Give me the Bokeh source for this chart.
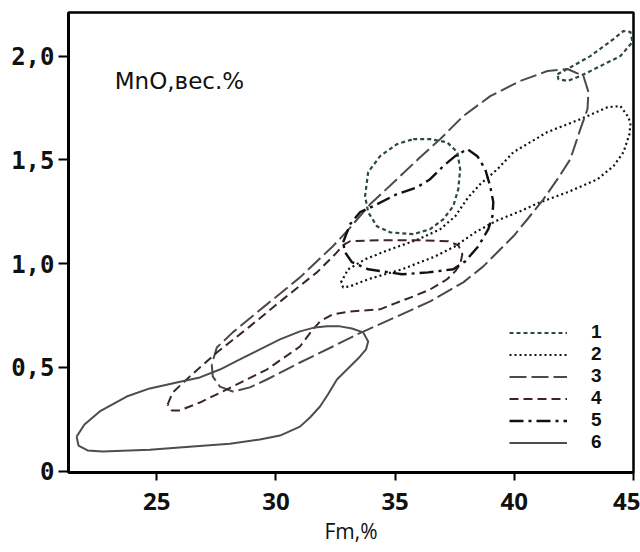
from bokeh.plotting import figure
from bokeh.models import Range1d, FixedTicker, Legend, LegendItem, Label
from bokeh.embed import file_html
from bokeh.resources import INLINE

# ---- data (Fm, %  vs  MnO, wt.%) : closed contour fields ----
# field 1 (two parts)
c1a_x = [35.76, 36.47, 37.18, 37.61, 37.73, 37.65, 37.44, 37.02, 36.47, 35.76, 34.79, 34.24, 33.87, 33.74, 33.87, 34.37, 35.08, 35.76]
c1a_y = [1.600, 1.600, 1.585, 1.537, 1.455, 1.359, 1.277, 1.214, 1.166, 1.142, 1.151, 1.180, 1.248, 1.325, 1.441, 1.518, 1.576, 1.600]
c1b_x = [41.81, 42.23, 43.19, 44.16, 44.58, 44.87, 44.96, 44.45, 43.61, 42.77, 42.23, 41.85, 41.81]
c1b_y = [1.913, 1.938, 2.000, 2.082, 2.121, 2.116, 2.068, 2.000, 1.952, 1.904, 1.880, 1.889, 1.913]
# field 2
c2_x = [32.73, 33.03, 33.74, 34.58, 35.97, 36.89, 37.52, 38.07, 38.57, 39.29, 39.96, 41.39, 42.77, 43.91, 44.45, 44.79, 44.87, 44.83,
        44.58, 44.16, 43.49, 42.23, 41.09, 40.25, 39.20, 38.36, 37.52, 36.68, 35.29, 33.87, 33.11, 32.82, 32.73]
c2_y = [0.910, 0.973, 1.021, 1.060, 1.117, 1.166, 1.228, 1.320, 1.383, 1.455, 1.537, 1.634, 1.696, 1.754, 1.759, 1.706, 1.672, 1.624,
        1.537, 1.470, 1.407, 1.344, 1.296, 1.253, 1.204, 1.151, 1.084, 1.035, 0.973, 0.925, 0.891, 0.886, 0.910]
# field 3
c3_x = [27.31, 27.35, 27.65, 28.19, 28.91, 29.62, 31.01, 32.39, 33.40, 35.08, 36.47, 37.86, 38.70, 39.29, 39.96, 40.55, 41.22, 41.81,
        42.35, 42.77, 43.07, 43.11, 42.90, 42.23, 41.39, 40.25, 38.99, 37.86, 36.89, 36.05, 35.08, 33.95, 32.98, 32.39, 31.01, 29.62,
        28.19, 27.52, 27.31]
c3_y = [0.514, 0.457, 0.408, 0.384, 0.404, 0.442, 0.524, 0.601, 0.659, 0.746, 0.818, 0.910, 0.987, 1.055, 1.132, 1.214, 1.310, 1.407,
        1.503, 1.648, 1.745, 1.827, 1.904, 1.938, 1.928, 1.880, 1.807, 1.711, 1.600, 1.513, 1.407, 1.286, 1.156, 1.084, 0.934, 0.804,
        0.669, 0.596, 0.514]
# field 4
c4_x = [25.46, 25.67, 26.39, 27.52, 28.91, 30.29, 31.72, 32.48, 32.82, 33.11, 34.37, 36.05, 37.23, 37.65, 37.82, 37.73, 37.52, 37.18,
        36.47, 35.76, 35.00, 34.37, 33.11, 32.39, 31.85, 31.55, 31.01, 29.62, 28.19, 26.81, 25.97, 25.63, 25.46]
c4_y = [0.322, 0.379, 0.457, 0.572, 0.698, 0.828, 0.958, 1.045, 1.089, 1.108, 1.113, 1.113, 1.108, 1.089, 1.045, 0.997, 0.963, 0.925,
        0.876, 0.842, 0.809, 0.780, 0.770, 0.756, 0.722, 0.683, 0.601, 0.490, 0.408, 0.331, 0.293, 0.293, 0.322]
# field 5
c5_x = [32.82, 33.11, 33.53, 34.08, 35.08, 35.92, 36.47, 37.02, 37.52, 38.03, 38.45, 38.78, 38.99, 39.12, 39.08, 38.91, 38.49, 37.94,
        37.44, 36.39, 35.29, 33.87, 33.19, 32.90, 32.82]
c5_y = [1.103, 1.190, 1.248, 1.277, 1.335, 1.368, 1.407, 1.470, 1.518, 1.552, 1.518, 1.455, 1.373, 1.296, 1.228, 1.166, 1.084, 1.011,
        0.973, 0.958, 0.949, 0.973, 1.007, 1.055, 1.103]
# field 6
c6_x = [21.64, 21.97, 22.61, 23.74, 24.71, 25.84, 26.81, 27.65, 28.49, 29.33, 30.17, 31.01, 31.64, 32.14, 32.69, 33.19, 33.66, 33.87,
        33.78, 33.53, 33.11, 32.56, 32.18, 31.85, 31.43, 31.01, 30.17, 29.33, 28.07, 26.51, 24.71, 22.73, 22.10, 21.72, 21.64]
c6_y = [0.167, 0.225, 0.288, 0.360, 0.399, 0.428, 0.452, 0.490, 0.539, 0.587, 0.635, 0.674, 0.693, 0.698, 0.698, 0.688, 0.669, 0.625,
        0.587, 0.553, 0.505, 0.442, 0.370, 0.312, 0.259, 0.215, 0.172, 0.153, 0.133, 0.119, 0.104, 0.095, 0.100, 0.124, 0.167]

legend_labels = ["1", "2", "3", "4", "5", "6"]
x_ticks = [25, 30, 35, 40, 45]
y_ticks = [0, 0.5, 1, 1.5, 2]
y_tick_labels = ["0", "0,5", "1,0", "1,5", "2,0"]

p = figure(width=640, height=552, output_backend="svg", toolbar_location=None,
           x_range=Range1d(21.3, 45.0), y_range=Range1d(-0.006, 2.21),
           min_border_left=68, min_border_right=7, min_border_top=12, min_border_bottom=80)
p.xgrid.visible = False
p.ygrid.visible = False
p.outline_line_color = "black"
p.outline_line_width = 2.5
p.outline_line_alpha = 1.0

for ax in (p.xaxis[0], p.yaxis[0]):
    ax.axis_line_width = 3
    ax.axis_line_color = "black"
    ax.major_tick_line_width = 2
    ax.major_tick_line_color = "black"
    ax.major_tick_in = 0
    ax.minor_tick_line_color = None

p.xaxis.ticker = FixedTicker(ticks=x_ticks)
p.xaxis.major_tick_out = 8
p.xaxis.major_label_standoff = 12
p.xaxis.major_label_text_font = "Open Sans"
p.xaxis.major_label_text_font_style = "bold"
p.xaxis.major_label_text_font_size = "24px"
p.xaxis.major_label_text_color = "#111111"
p.xaxis.axis_label = "Fm,%"
p.xaxis.axis_label_text_font = "Open Sans"
p.xaxis.axis_label_text_font_style = "normal"
p.xaxis.axis_label_text_font_size = "21px"
p.xaxis.axis_label_text_color = "#111111"
p.xaxis.axis_label_standoff = 4

p.yaxis.ticker = FixedTicker(ticks=y_ticks)
p.yaxis.major_label_overrides = dict(zip(y_ticks, y_tick_labels))
p.yaxis.major_tick_out = 10
p.yaxis.major_label_standoff = 4
p.yaxis.major_label_text_font = "DejaVu Sans Mono"
p.yaxis.major_label_text_font_style = "bold"
p.yaxis.major_label_text_font_size = "24px"
p.yaxis.major_label_text_color = "#111111"

r1 = p.multi_line(xs=[c1a_x, c1b_x], ys=[c1a_y, c1b_y], line_color="#2c4a3b", line_width=2.2,
                  line_dash="4 3", line_join="round")
r2 = p.line(c2_x, c2_y, line_color="#111111", line_width=2.2, line_dash="2 3", line_join="round")
r3 = p.line(c3_x, c3_y, line_color="#4a4a4a", line_width=2.0, line_dash="17 5", line_join="round")
r4 = p.line(c4_x, c4_y, line_color="#3a2529", line_width=2.0, line_dash="9 5", line_join="round")
r5 = p.line(c5_x, c5_y, line_color="#111111", line_width=2.4, line_dash="14 5 3 5", line_join="round")
r6 = p.line(c6_x, c6_y, line_color="#4d4d4d", line_width=2.0, line_join="round")

items = [LegendItem(label=lab, renderers=[r]) for lab, r in zip(legend_labels, [r1, r2, r3, r4, r5, r6])]
legend = Legend(items=items, location=(441, 19), orientation="vertical",
                glyph_width=58, glyph_height=21, label_height=21, spacing=0,
                padding=0, margin=0, label_standoff=24,
                border_line_color=None, background_fill_alpha=0,
                label_text_font="Liberation Sans", label_text_font_style="bold",
                label_text_font_size="19px", label_text_color="#111111",
                label_text_line_height=1.0)
p.add_layout(legend)

p.add_layout(Label(x=23.24, y=1.88, text="MnO,вес.%", text_baseline="middle",
                   text_font="DejaVu Sans", text_font_size="23px", text_color="#111111"))

open("out.html", "w").write(file_html(p, INLINE))
